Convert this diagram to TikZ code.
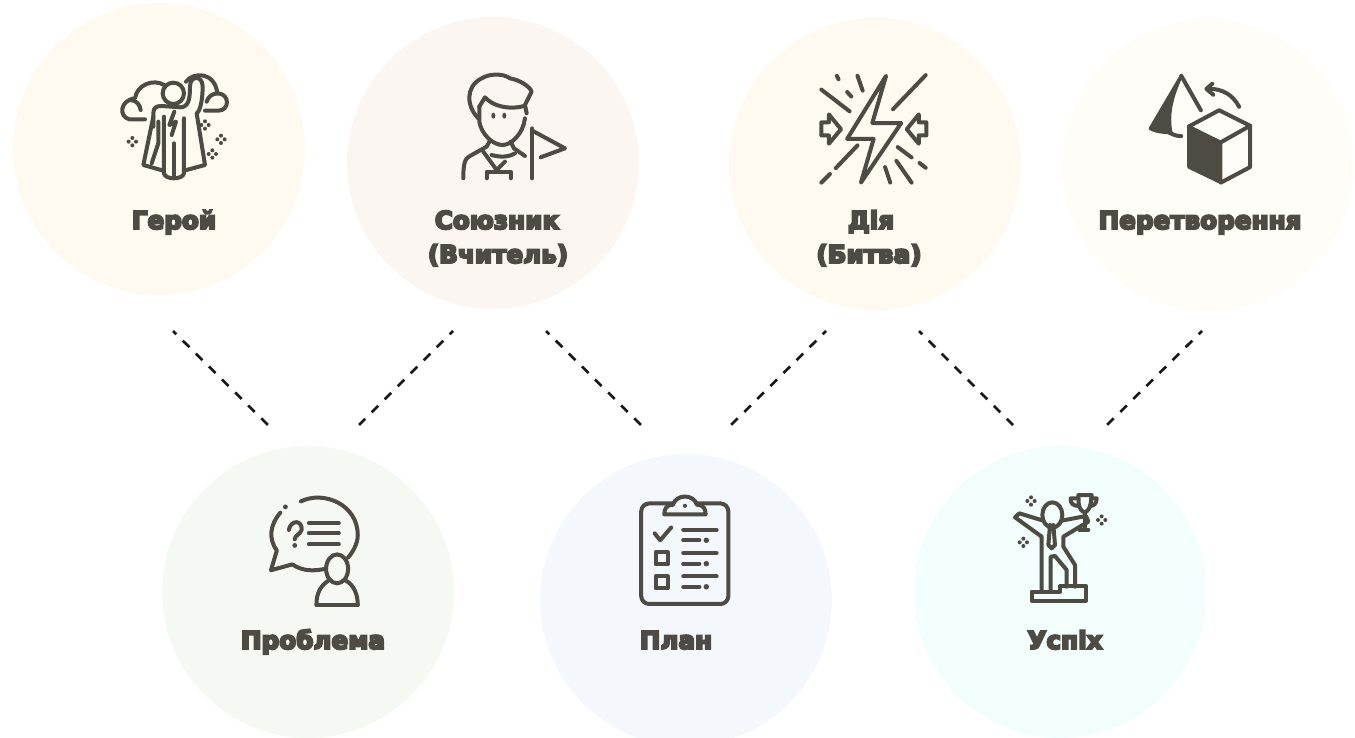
\documentclass[tikz,border=0pt]{standalone}
\usepackage{fontspec}
\usepackage{tikz}
\setmainfont{DejaVu Sans}
\newfontfamily\labelfont[FakeBold=8]{DejaVu Sans Bold}
\definecolor{inkcol}{HTML}{4D4B43}
\definecolor{herocol}{HTML}{FEFAF0}
\definecolor{allycol}{HTML}{FBF6F2}
\definecolor{actioncol}{HTML}{FEFAF0}
\definecolor{changecol}{HTML}{FFFDF7}
\definecolor{problemcol}{HTML}{F6F9F3}
\definecolor{plancol}{HTML}{F4F7FC}
\definecolor{successcol}{HTML}{F2FEFC}
\tikzset{
  stagecircle/.style={circle,minimum size=219pt,inner sep=0pt},
  stagelabel/.style={anchor=base,inner sep=0pt,text=inkcol,font=\labelfont\fontsize{18.5}{20}\selectfont},
  iconline/.style={draw=inkcol,line width=3pt,line cap=round,line join=round},
  iconfill/.style={fill=inkcol,draw=inkcol,line width=2.4pt,line join=round},
  linkline/.style={draw=black!90,line width=2pt,dash pattern=on 7pt off 6.8pt,dash phase=3.5pt},
}
\newcommand{\sparks}[2]{
\fill[inkcol] (#1-11,#2) circle (6) (#1+11,#2) circle (6) (#1,#2-11) circle (6) (#1,#2+11) circle (6);
}
\begin{document}
\begin{tikzpicture}[x=0.75pt,y=-0.75pt]
\useasboundingbox (0,0) rectangle (1355,738);
\node[stagecircle,fill=herocol] (hero) at (159,149) {};
\node[stagecircle,fill=allycol] (ally) at (493,163) {};
\node[stagecircle,fill=actioncol] (action) at (875,164) {};
\node[stagecircle,fill=changecol] (change) at (1208,165) {};
\node[stagecircle,fill=problemcol] (problem) at (308,592) {};
\node[stagecircle,fill=plancol] (plan) at (686,600) {};
\node[stagecircle,fill=successcol] (success) at (1060,592) {};

\node[stagelabel] (herotext) at (174,229) {Герой};
\node[stagelabel] (allytext) at (497,229) {Союзник};
\node[stagelabel] (allysub) at (498,263) {(Вчитель)};
\node[stagelabel] (actiontext) at (871,229) {Дія};
\node[stagelabel] (actionsub) at (869,263) {(Битва)};
\node[stagelabel] (changetext) at (1200,229) {Перетворення};
\node[stagelabel] (problemtext) at (313,649) {Проблема};
\node[stagelabel] (plantext) at (676,649) {План};
\node[stagelabel] (successtext) at (1065,649) {Успіх};

\coordinate (a1) at (173,331);
\coordinate (a2) at (268,425);
\coordinate (b1) at (453,331);
\coordinate (b2) at (359,425);
\coordinate (c1) at (546,331);
\coordinate (c2) at (641,425);
\coordinate (d1) at (826,331);
\coordinate (d2) at (731,425);
\coordinate (e1) at (919,331);
\coordinate (e2) at (1013,425);
\coordinate (f1) at (1202,331);
\coordinate (f2) at (1107,425);
\draw[linkline] (a1) -- (a2);
\draw[linkline] (b1) -- (b2);
\draw[linkline] (c1) -- (c2);
\draw[linkline] (d1) -- (d2);
\draw[linkline] (e1) -- (e2);
\draw[linkline] (f1) -- (f2);

\begin{scope}[shift={(90,50)},scale=0.3333]
\draw[iconline] (165,208) -- (118,208) .. controls (85,200) and (90,150) .. (135,145) .. controls (140,105) and (190,85) .. (222,105);
\draw[iconline] (120,150) .. controls (140,150) and (150,165) .. (152,180);
\draw[iconline] (288,95) .. controls (310,65) and (375,65) .. (382,130) .. controls (420,130) and (420,182) .. (385,182) -- (345,182);
\draw[iconline] (350,155) .. controls (355,140) and (365,132) .. (382,130);
\draw[iconline] (250,130) circle (32);
\draw[iconline] (190,230) -- (190,190) .. controls (190,172) and (200,168) .. (215,168) -- (272,172) .. controls (295,170) and (300,150) .. (300,110) .. controls (300,75) and (338,75) .. (338,110) .. controls (338,150) and (330,185) .. (320,190) -- (345,345) -- (282,362);
\draw[iconline] (190,200) -- (160,345) -- (220,362);
\draw[iconline] (222,200) -- (222,370) .. controls (225,390) and (278,390) .. (282,370) -- (282,205);
\draw[iconline] (252,280) -- (252,382);
\draw[iconline] (205,215) -- (205,280) -- (185,340);
\draw[iconline] (253,185) -- (238,225) -- (258,215) -- (245,255);
\sparks{127}{275}
\sparks{345}{225}
\sparks{393}{268}
\sparks{367}{312}
\end{scope}

\begin{scope}[shift={(90,50)},scale=0.3333]
\draw[iconline] (1165,205) .. controls (1130,170) and (1125,110) .. (1175,85) .. controls (1200,70) and (1240,70) .. (1260,85) .. controls (1290,90) and (1320,110) .. (1325,125) -- (1305,165) -- (1310,190);
\draw[iconline] (1168,170) -- (1185,142) .. controls (1210,170) and (1260,180) .. (1303,168);
\draw[iconline] (1168,170) -- (1168,215) .. controls (1175,255) and (1210,285) .. (1238,285) .. controls (1265,285) and (1300,250) .. (1305,205);
\fill[inkcol] (1210,197) ellipse (6 and 9) (1243,197) ellipse (6 and 9);
\draw[iconline] (1200,272) -- (1190,290) -- (1140,318) .. controls (1125,325) and (1120,340) .. (1120,385);
\draw[iconline] (1262,275) -- (1272,295) -- (1305,318);
\draw[iconline] (1205,315) .. controls (1230,322) and (1255,322) .. (1275,310);
\draw[iconline] (1180,305) -- (1220,360) -- (1245,335);
\draw[iconline] (1190,385) -- (1190,365) -- (1262,365) -- (1262,385);
\draw[iconline] (1327,235) -- (1327,385);
\draw[iconline] (1327,242) -- (1425,295) -- (1352,322);
\end{scope}

\begin{scope}[shift={(780,50)},scale=0.3444]
\draw[iconline] (308,75) -- (195,258) -- (272,258) -- (235,385) -- (352,212) -- (268,212) -- cycle;
\draw[iconline] (120,115) -- (202,178);
\draw[iconline] (165,75) -- (170,85);
\draw[iconline] (225,75) -- (240,118);
\draw[iconline] (195,122) -- (207,135);
\draw[iconline] (423,73) -- (328,172);
\draw[iconline] (225,277) -- (162,343);
\draw[iconline] (145,360) -- (120,385);
\draw[iconline] (342,282) -- (382,312);
\draw[iconline] (405,328) -- (423,342);
\draw[iconline] (338,322) -- (382,385);
\draw[iconline] (305,340) -- (320,385);
\draw[iconline] (120,210) -- (142,210) -- (142,187) -- (177,230) -- (142,272) -- (142,248) -- (120,248) -- cycle;
\draw[iconline] (425,210) -- (403,210) -- (403,187) -- (368,230) -- (403,272) -- (403,248) -- (425,248) -- cycle;
\end{scope}

\begin{scope}[shift={(780,50)},scale=0.3444]
\filldraw[iconfill] (1075,228) -- (1165,75) .. controls (1135,140) and (1125,190) .. (1135,240) .. controls (1110,240) and (1085,235) .. (1075,228) -- cycle;
\draw[iconline] (1165,75) -- (1222,175);
\draw[iconline] (1130,240) .. controls (1145,248) and (1155,250) .. (1165,250);
\draw[iconline] (1333,165) .. controls (1315,130) and (1285,112) .. (1240,112);
\draw[iconline] (1255,98) -- (1238,113) -- (1258,130);
\filldraw[iconfill] (1187,222) -- (1280,268) -- (1280,385) -- (1187,340) -- cycle;
\draw[iconline] (1187,222) -- (1275,175) -- (1365,220) -- (1280,268);
\draw[iconline] (1365,220) -- (1365,340) -- (1280,385);
\end{scope}

\begin{scope}[shift={(220,480)},scale=0.3444]
\fill[inkcol] (190,78) circle (7);
\draw[iconline] (235,62) .. controls (300,30) and (400,70) .. (400,160) .. controls (400,185) and (385,210) .. (372,225);
\draw[iconline] (175,95) .. controls (145,130) and (140,170) .. (165,205) -- (148,262) -- (210,245) .. controls (240,265) and (270,265) .. (305,258);
\draw[iconline] (200,145) .. controls (205,115) and (240,115) .. (237,145) .. controls (232,160) and (217,160) .. (217,172);
\fill[inkcol] (217,190) circle (7);
\draw[iconline] (258,125) -- (345,125);
\draw[iconline] (258,155) -- (345,155);
\draw[iconline] (258,187) -- (345,187);
\draw[iconline] (340,258) ellipse (32 and 42);
\draw[iconline] (280,362) .. controls (280,325) and (295,305) .. (315,292);
\draw[iconline] (365,292) .. controls (390,305) and (400,335) .. (400,362);
\draw[iconline] (280,362) -- (400,362);
\end{scope}

\begin{scope}[shift={(220,480)},scale=0.3444]
\draw[iconline,rounded corners=6pt] (1223,68) rectangle (1476,360);
\draw[iconline,fill=plancol] (1290,100) -- (1410,100) .. controls (1410,85) and (1405,72) .. (1385,72) .. controls (1375,40) and (1325,40) .. (1315,72) .. controls (1295,72) and (1290,85) .. (1290,100) -- cycle;
\fill[inkcol] (1350,75) circle (6);
\draw[iconline] (1262,155) -- (1278,175) -- (1310,138);
\draw[iconline] (1265,210) rectangle (1300,245);
\draw[iconline] (1265,280) rectangle (1300,315);
\draw[iconline] (1345,145) -- (1442,145);
\draw[iconline] (1345,175) -- (1392,175);
\fill[inkcol] (1412,175) circle (8);
\draw[iconline] (1345,212) -- (1442,212);
\draw[iconline] (1345,243) -- (1392,243);
\fill[inkcol] (1412,243) circle (8);
\draw[iconline] (1345,280) -- (1442,280);
\draw[iconline] (1345,310) -- (1392,310);
\fill[inkcol] (1412,310) circle (8);
\end{scope}

\begin{scope}[shift={(980,480)},scale=0.3333]
\draw[iconline] (217,105) ellipse (30 and 38);
\draw[iconline] (190,122) -- (118,100) -- (105,112) -- (185,170) -- (185,335);
\draw[iconline] (245,122) -- (318,108) -- (325,125) -- (250,170) -- (250,200) -- (285,255) -- (285,320);
\draw[iconline] (212,335) -- (212,230) -- (225,228) -- (260,270) -- (260,320);
\draw[iconline] (210,135) -- (205,195) -- (215,205) -- (225,195) -- (220,135);
\draw[iconline] (155,362) -- (155,335) -- (240,335) -- (240,318) -- (318,318) -- (318,362) -- cycle;
\draw[iconline] (295,45) -- (335,45) -- (332,70) .. controls (330,85) and (322,95) .. (314,97) .. controls (305,95) and (298,85) .. (296,70) -- cycle;
\draw[iconline] (295,55) -- (272,55) .. controls (270,70) and (280,78) .. (297,78);
\draw[iconline] (335,55) -- (350,55) .. controls (350,70) and (342,78) .. (330,78);
\draw[iconline] (314,97) -- (314,148);
\draw[iconline] (298,150) -- (325,150);
\sparks{153}{63}
\sparks{365}{120}
\sparks{130}{187}
\end{scope}
\end{tikzpicture}
\end{document}
